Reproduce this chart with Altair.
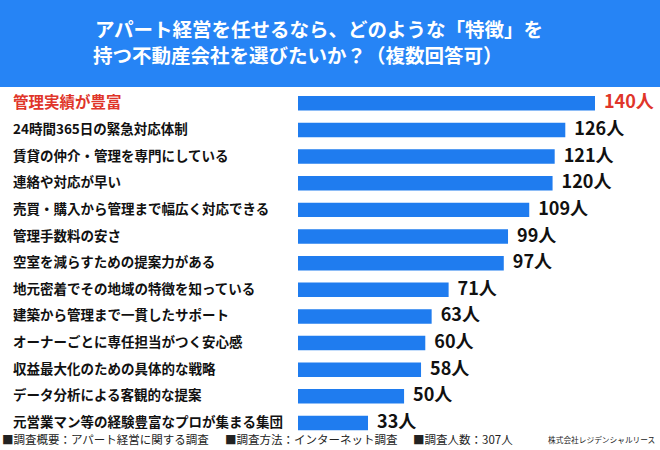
import altair as alt
import pandas as pd

# Survey results: features wanted in a property-management company (multiple answers)
categories = [
    "管理実績が豊富",
    "24時間365日の緊急対応体制",
    "賃貸の仲介・管理を専門にしている",
    "連絡や対応が早い",
    "売買・購入から管理まで幅広く対応できる",
    "管理手数料の安さ",
    "空室を減らすための提案力がある",
    "地元密着でその地域の特徴を知っている",
    "建築から管理まで一貫したサポート",
    "オーナーごとに専任担当がつく安心感",
    "収益最大化のための具体的な戦略",
    "データ分析による客観的な提案",
    "元営業マン等の経験豊富なプロが集まる集団",
]
counts = [140, 126, 121, 120, 109, 99, 97, 71, 63, 60, 58, 50, 33]

title_lines = [
    "アパート経営を任せるなら、どのような「特徴」を",
    "持つ不動産会社を選びたいか？（複数回答可）",
]
footer_notes = [
    "■調査概要：アパート経営に関する調査",
    "■調査方法：インターネット調査",
    "■調査人数：307人",
]
credit = "株式会社レジデンシャルリース"

FONT = "Noto Sans CJK JP"
HEADER_BLUE = "#2684F5"
BAR_BLUE = "#1F7CEF"
RED = "#E0352A"
INK = "#111111"

df = pd.DataFrame({
    "category": categories,
    "count": counts,
    "label": [f"{c}人" for c in counts],
    "top": [i == 0 for i in range(len(categories))],
})

x_scale = alt.Scale(domain=[0, 140], range=[298, 595], nice=False, zero=True)
y_enc = alt.Y(
    "category:N",
    sort=categories,
    scale=alt.Scale(range=[90, 436.3], paddingInner=0.456, paddingOuter=0.228),
    axis=None,
)

one = pd.DataFrame({"k": [0]})

header = alt.Chart(one).mark_rect(color=HEADER_BLUE).encode(
    x=alt.value(0), x2=alt.value(660), y=alt.value(0), y2=alt.value(87)
)

title1 = alt.Chart(one).mark_text(
    text=title_lines[0], font=FONT, fontSize=19.5, fontWeight="bold",
    color="white", align="left", baseline="middle",
).encode(x=alt.value(95), y=alt.value(31))
title2 = alt.Chart(one).mark_text(
    text=title_lines[1], font=FONT, fontSize=19.5, fontWeight="bold",
    color="white", align="left", baseline="middle",
).encode(x=alt.value(93), y=alt.value(57))

base = alt.Chart(df)

bars = base.mark_bar(color=BAR_BLUE).encode(
    x=alt.X("count:Q", scale=x_scale, axis=None),
    y=y_enc,
)

values = base.mark_text(
    font=FONT, fontWeight="bold", align="left", baseline="middle", dx=9
).encode(
    x=alt.X("count:Q", scale=x_scale, axis=None),
    y=y_enc,
    text="label:N",
    color=alt.condition("datum.top", alt.value(RED), alt.value(INK)),
    size=alt.value(18),
)

cat_labels = base.mark_text(
    font=FONT, fontWeight="bold", align="left", baseline="middle"
).encode(
    x=alt.value(13),
    y=y_enc,
    text="category:N",
    color=alt.condition("datum.top", alt.value(RED), alt.value(INK)),
    size=alt.condition("datum.top", alt.value(15.5), alt.value(13.5)),
)

footer_x = [2, 225, 413]
footer = [
    alt.Chart(one).mark_text(
        text=t, font=FONT, fontSize=11.5, color="#222222",
        align="left", baseline="middle",
    ).encode(x=alt.value(px), y=alt.value(441))
    for t, px in zip(footer_notes, footer_x)
]
credit_mark = alt.Chart(one).mark_text(
    text=credit, font=FONT, fontSize=7.7, color="#222222",
    align="left", baseline="middle",
).encode(x=alt.value(548), y=alt.value(441))

chart = alt.layer(
    header, title1, title2, bars, values, cat_labels, *footer, credit_mark
).properties(
    width=660, height=450, padding=0, autosize=alt.AutoSizeParams(type="none"),
    background="white",
).configure_view(stroke=None)

chart.save("out.html", embed_options={"renderer": "svg", "actions": False})
